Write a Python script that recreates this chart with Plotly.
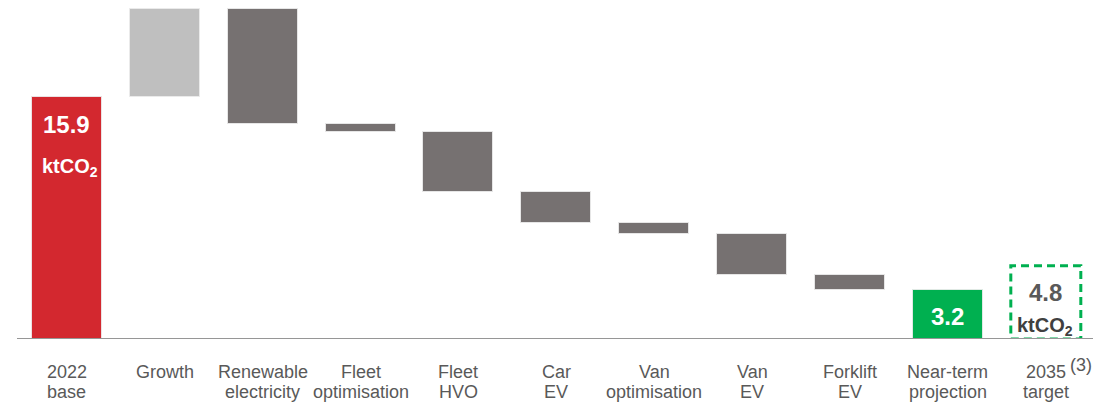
import plotly.graph_objects as go

# Emissions bridge, ktCO2
categories = ["2022\nbase", "Growth", "Renewable\nelectricity", "Fleet\noptimisation",
              "Fleet\nHVO", "Car\nEV", "Van\noptimisation", "Van\nEV", "Forklift\nEV",
              "Near-term\nprojection", "2035\ntarget"]
base_2022 = 15.9
changes = [5.75, -7.54, -0.52, -3.92, -2.04, -0.73, -2.69, -1.01]
near_term = 3.2
target_2035 = 4.8

RED = "#D3282F"
LIGHT = "#BFBFBF"
DARK = "#767171"
GREEN = "#00B050"
TEXT = "#595959"
FONT = "Arial, Liberation Sans, sans-serif"
BAR_W = 0.715

# bar bases / heights for the floating steps
bases, heights, colors = [0.0], [base_2022], [RED]
level = base_2022
for d in changes:
    new = level + d
    bases.append(min(level, new))
    heights.append(abs(d))
    colors.append(LIGHT if d > 0 else DARK)
    level = new
bases.append(0.0)
heights.append(near_term)
colors.append(GREEN)

xs = list(range(len(heights)))

fig = go.Figure()
fig.add_trace(go.Bar(
    x=xs, y=heights, base=bases, width=BAR_W,
    marker=dict(color=colors, line=dict(color="rgba(235,235,235,0.9)", width=1)),
    hoverinfo="skip", showlegend=False,
))

annotations = []
# category labels, one annotation per line
for i, lab in enumerate(categories):
    for j, line in enumerate(lab.split("\n")):
        annotations.append(dict(
            x=i, xref="x", y=[-0.098, -0.1555][j], yref="paper",
            text=line, showarrow=False, xanchor="center", yanchor="middle",
            font=dict(family=FONT, size=18, color=TEXT),
        ))
annotations.append(dict(
    x=10, xref="x", y=-0.077, yref="paper", xshift=35, text="(3)", showarrow=False,
    xanchor="center", yanchor="middle", font=dict(family=FONT, size=18, color=TEXT),
))

unit = "ktCO<sub>2</sub>"
# value labels
annotations += [
    dict(x=0, y=base_2022, yshift=-28, text=f"<b>{base_2022:.1f}</b>",
         font=dict(family=FONT, size=24, color="white")),
    dict(x=0, y=base_2022, yshift=-71, xshift=3, text=f"<b>{unit}</b>",
         font=dict(family=FONT, size=20, color="white")),
    dict(x=9, y=near_term, yshift=-26, text=f"<b>{near_term:.1f}</b>",
         font=dict(family=FONT, size=24, color="white")),
    dict(x=10, y=target_2035, yshift=-27, text=f"<b>{target_2035:.1f}</b>",
         font=dict(family=FONT, size=24, color=TEXT)),
    dict(x=10, y=target_2035, yshift=-61, xshift=-1, text=f"<b>{unit}</b>",
         font=dict(family=FONT, size=20, color="#404040")),
]
for a in annotations[-5:]:
    a.update(xref="x", yref="y", showarrow=False, xanchor="center", yanchor="middle")

shapes = [
    # 2035 target outline
    dict(type="rect", xref="x", yref="y", x0=10 - BAR_W / 2, x1=10 + BAR_W / 2,
         y0=0, y1=target_2035, line=dict(color=GREEN, width=3, dash="8px,5px"),
         fillcolor="rgba(0,0,0,0)", layer="above"),
    # baseline
    dict(type="line", xref="paper", yref="y", x0=0, x1=1, y0=0, y1=0,
         line=dict(color="#969696", width=2), layer="above"),
]

fig.update_layout(
    width=1104, height=404,
    margin=dict(l=17, r=11, t=0, b=65),
    paper_bgcolor="white", plot_bgcolor="white",
    xaxis=dict(range=[-0.509, 10.482], showticklabels=False, showgrid=False,
               zeroline=False, showline=False, fixedrange=True),
    yaxis=dict(range=[0, 339 / 15.25], showticklabels=False, showgrid=False,
               zeroline=False, showline=False, fixedrange=True),
    annotations=annotations,
    shapes=shapes,
    bargap=0,
)

fig.write_html("out.html", config={"displayModeBar": False})
